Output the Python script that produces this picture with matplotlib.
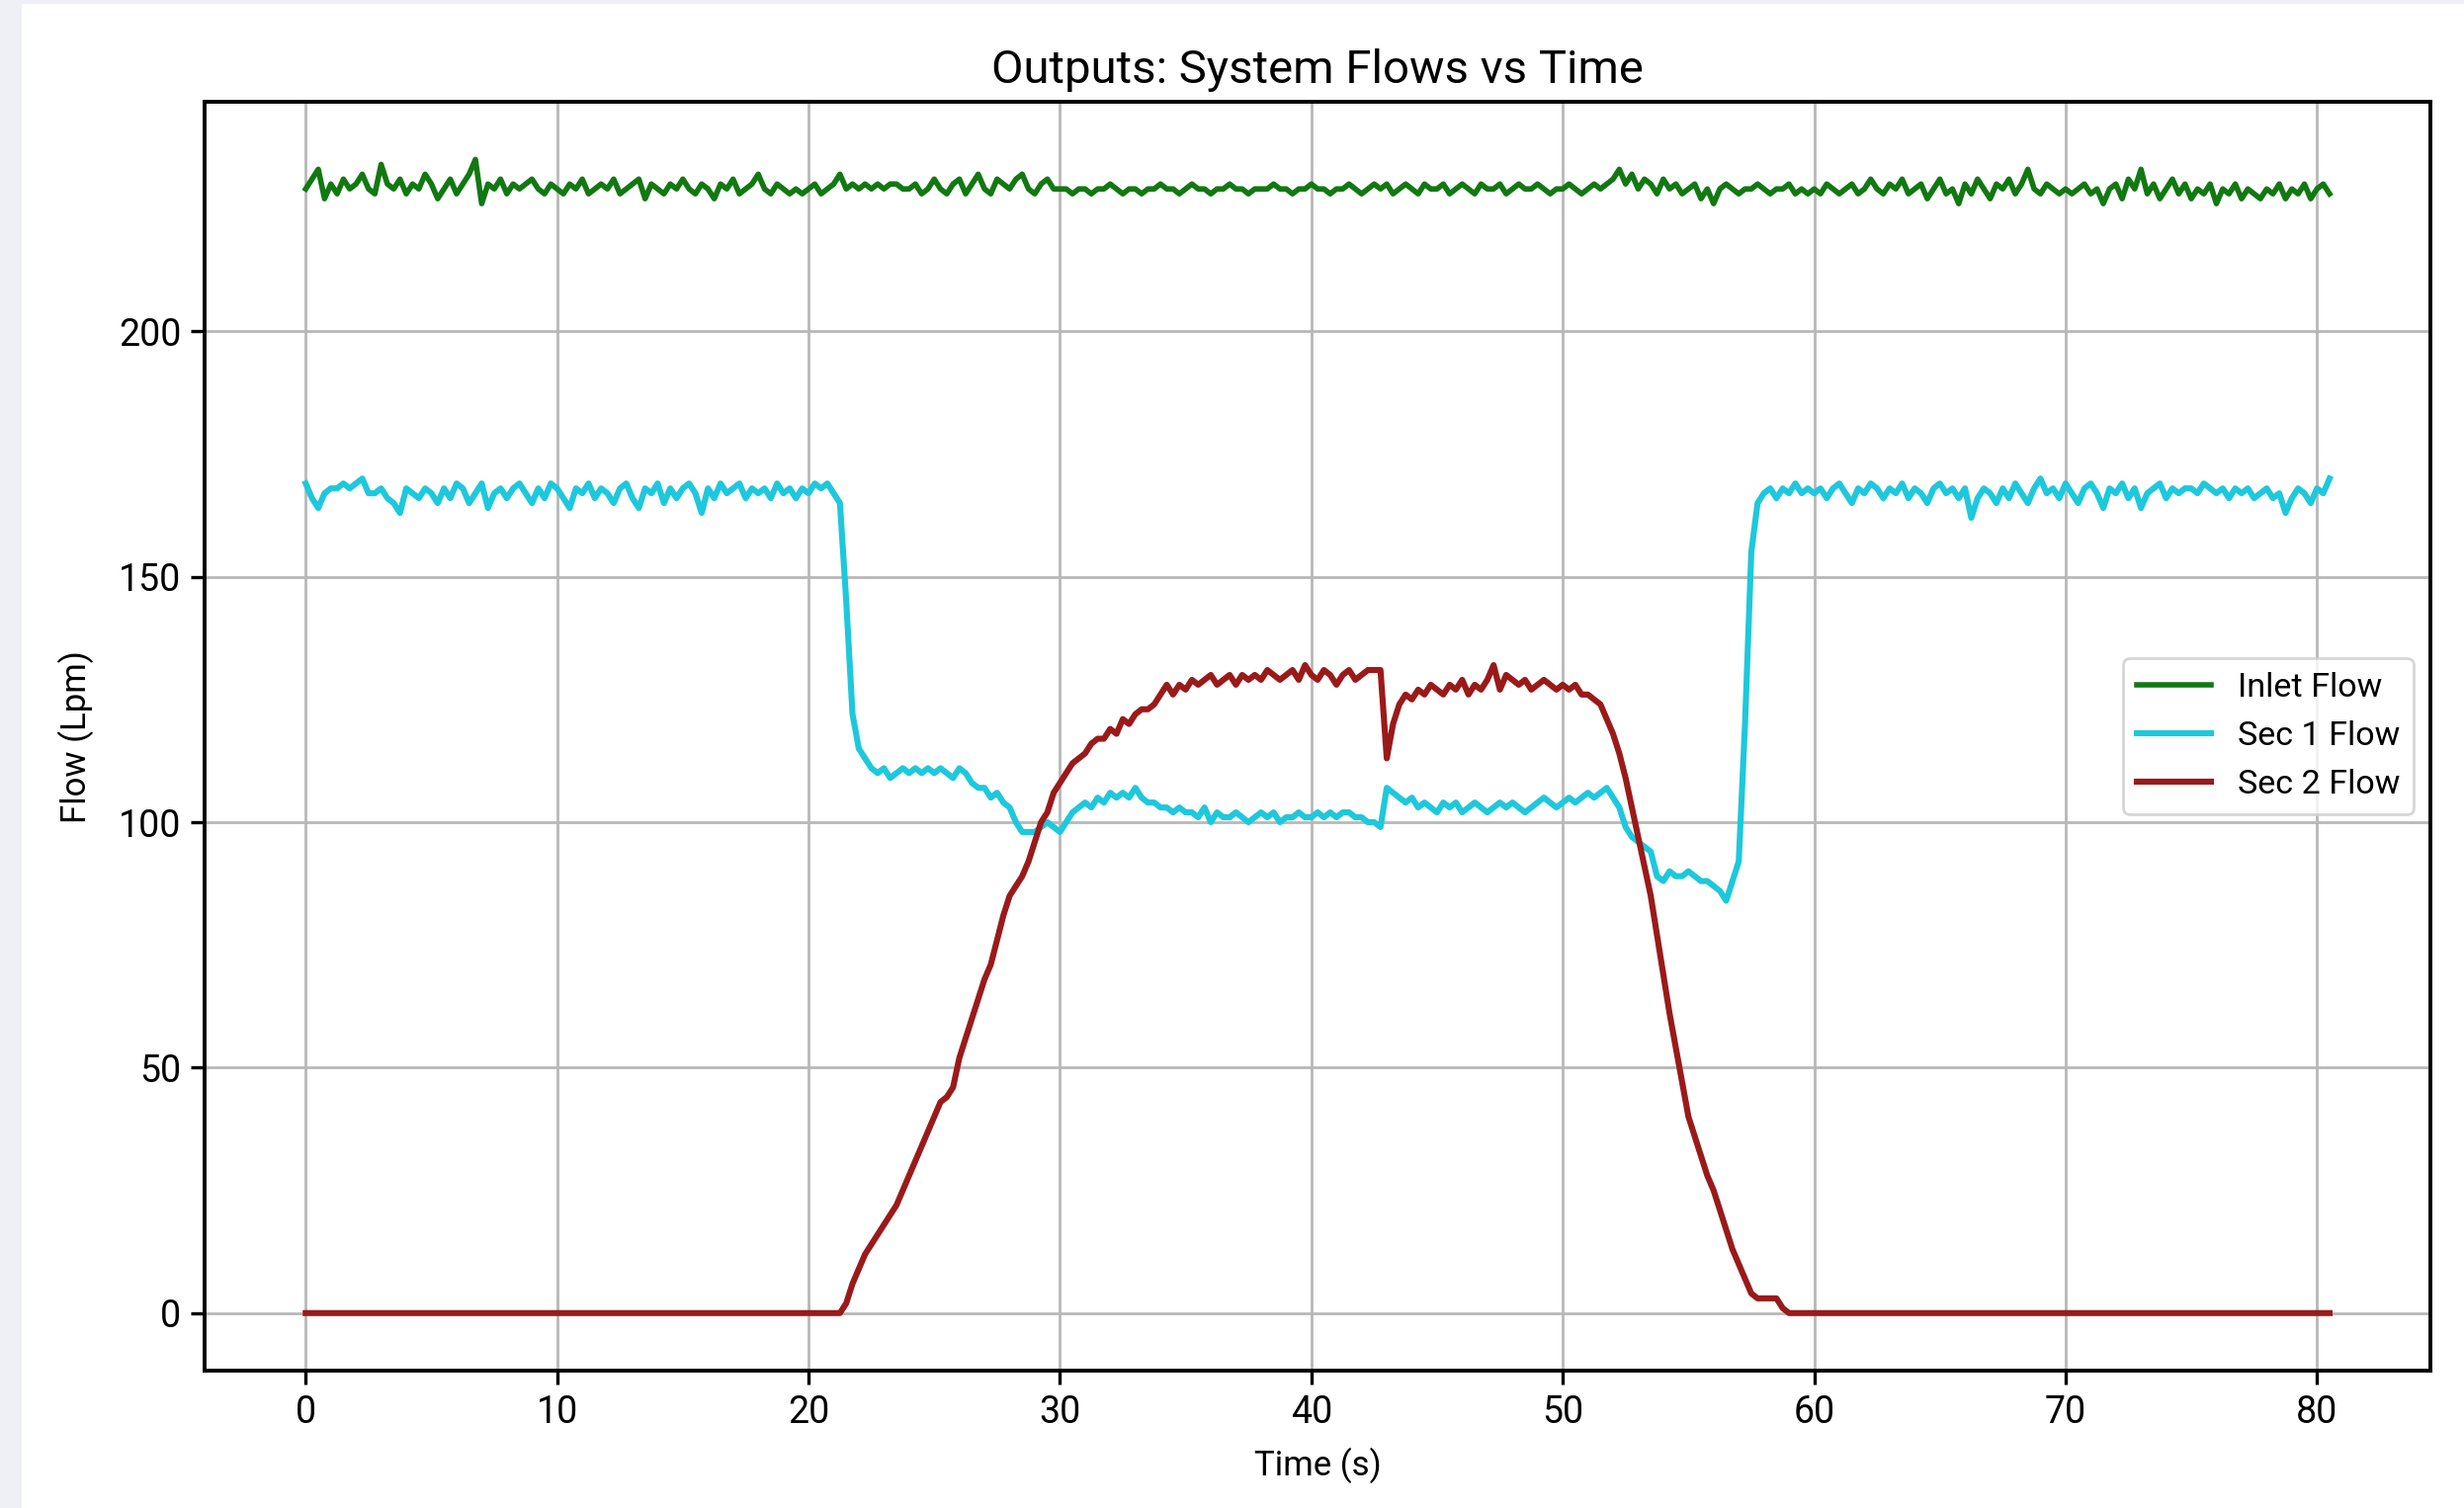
import numpy as np
import matplotlib.pyplot as plt
from matplotlib.patches import Rectangle

plt.rcParams['font.family'] = ['Roboto', 'DejaVu Sans']

# time base, 0.25 s steps from 0 to 80.5 s
time_s = np.arange(323) * 0.25

inlet_flow = [
    229, 231, 233, 227, 230, 228, 231, 229, 230, 232, 229, 228, 234, 230, 229, 231, 228, 230, 229, 232,
    230, 227, 229, 231, 228, 230, 232, 235, 226, 230, 229, 231, 228, 230, 229, 230, 231, 229, 228, 230,
    229, 228, 230, 229, 231, 228, 229, 230, 229, 231, 228, 229, 230, 231, 227, 230, 229, 228, 230, 229,
    231, 229, 228, 230, 229, 227, 230, 229, 231, 228, 229, 230, 232, 229, 228, 230, 229, 228, 229, 228,
    229, 230, 228, 229, 230, 232, 229, 230, 229, 230, 229, 230, 229, 230, 230, 229, 229, 230, 228, 229,
    231, 229, 228, 230, 231, 228, 230, 232, 229, 228, 231, 230, 229, 231, 232, 229, 228, 230, 231, 229,
    229, 229, 228, 229, 229, 228, 229, 229, 230, 229, 228, 229, 229, 228, 229, 229, 230, 229, 229, 228,
    229, 230, 229, 229, 228, 229, 229, 230, 229, 229, 228, 229, 229, 229, 230, 229, 229, 228, 229, 229,
    230, 229, 229, 228, 229, 229, 230, 229, 228, 229, 230, 229, 230, 228, 229, 230, 229, 228, 230, 229,
    229, 230, 228, 229, 230, 229, 228, 230, 229, 229, 230, 228, 229, 230, 229, 229, 230, 229, 228, 229,
    229, 230, 229, 228, 229, 230, 229, 230, 231, 233, 230, 232, 229, 231, 230, 228, 231, 229, 230, 228,
    229, 230, 227, 229, 226, 229, 230, 229, 228, 229, 229, 230, 229, 228, 229, 229, 230, 228, 229, 228,
    229, 228, 230, 229, 228, 229, 230, 228, 229, 231, 229, 228, 230, 229, 231, 228, 229, 230, 227, 229,
    231, 228, 229, 226, 230, 228, 231, 229, 227, 230, 229, 231, 228, 230, 233, 229, 228, 230, 229, 228,
    229, 228, 229, 230, 228, 229, 226, 229, 230, 227, 231, 229, 233, 228, 230, 227, 229, 231, 228, 230,
    227, 229, 228, 230, 226, 229, 228, 230, 227, 229, 228, 227, 229, 228, 230, 227, 229, 228, 230, 227,
    229, 230, 228,
]

sec1_flow = [
    169, 166, 164, 167, 168, 168, 169, 168, 169, 170, 167, 167, 168, 166, 165, 163, 168, 167, 166, 168,
    167, 165, 168, 166, 169, 168, 165, 167, 169, 164, 167, 168, 166, 168, 169, 167, 165, 168, 166, 169,
    168, 166, 164, 168, 167, 169, 166, 168, 167, 165, 168, 169, 166, 164, 168, 167, 169, 165, 168, 166,
    168, 169, 167, 163, 168, 166, 169, 167, 168, 169, 166, 168, 167, 168, 166, 169, 167, 168, 166, 168,
    167, 169, 168, 169, 167, 165, 145, 122, 115, 113, 111, 110, 111, 109, 110, 111, 110, 111, 110, 111,
    110, 111, 110, 109, 111, 110, 108, 107, 107, 105, 106, 104, 103, 100, 98, 98, 98, 99, 100, 99,
    98, 100, 102, 103, 104, 103, 105, 104, 106, 105, 106, 105, 107, 105, 104, 104, 103, 103, 102, 103,
    102, 102, 101, 103, 100, 102, 101, 101, 102, 101, 100, 101, 102, 101, 102, 100, 101, 101, 102, 101,
    101, 102, 101, 102, 101, 102, 102, 101, 101, 100, 100, 99, 107, 106, 105, 104, 105, 103, 104, 103,
    102, 104, 103, 104, 102, 103, 104, 103, 102, 103, 104, 103, 104, 103, 102, 103, 104, 105, 104, 103,
    104, 105, 104, 105, 106, 105, 106, 107, 105, 103, 99, 97, 96, 95, 94, 89, 88, 90, 89, 89,
    90, 89, 88, 88, 87, 86, 84, 88, 92, 120, 155, 165, 167, 168, 166, 168, 167, 169, 167, 168,
    167, 168, 166, 168, 169, 167, 165, 168, 167, 169, 168, 166, 168, 167, 169, 166, 168, 167, 165, 168,
    169, 167, 168, 166, 168, 162, 166, 168, 167, 165, 168, 166, 169, 167, 165, 168, 170, 167, 168, 166,
    169, 167, 165, 168, 169, 167, 164, 168, 167, 169, 166, 168, 164, 167, 168, 169, 166, 168, 167, 168,
    168, 167, 169, 168, 167, 168, 166, 168, 167, 168, 166, 167, 168, 166, 167, 163, 166, 168, 167, 165,
    168, 167, 170,
]

sec2_flow = (
    [0.0] * 80
    + [0, 0, 0, 0, 0, 0, 2, 6, 9, 12, 14, 16, 18, 20, 22, 25, 28, 31, 34, 37,
       40, 43, 44, 46, 52, 56, 60, 64, 68, 71, 76, 81, 85, 87, 89, 92, 96, 100, 102, 106,
       108, 110, 112, 113, 114, 116, 117, 117, 119, 118, 121, 120, 122, 123, 123, 124, 126, 128, 126, 128,
       127, 129, 128, 129, 130, 128, 129, 130, 128, 130, 129, 130, 129, 131, 130, 129, 130, 131, 129, 132,
       130, 129, 131, 130, 128, 130, 131, 129, 130, 131, 131, 131, 113, 120, 124, 126, 125, 127, 126, 128,
       127, 126, 128, 127, 129, 126, 128, 127, 129, 132, 127, 130, 129, 128, 129, 127, 128, 129, 128, 127,
       128, 127, 128, 126, 126, 125, 124, 121, 118, 114, 109, 103, 97, 91, 85, 77, 69, 61, 54, 47,
       40, 36, 32, 28, 25, 21, 17, 13, 10, 7, 4, 3, 3, 3, 3, 1, 0, 0, 0, 0]
    + [0.0] * 83
)

fig = plt.figure(figsize=(12.465, 7.63), dpi=200, facecolor='#eef0f5')
fig.patches.append(Rectangle((22 / 2493, 0), 1, 1 - 4 / 1526, transform=fig.transFigure,
                             facecolor='white', edgecolor='none', zorder=-1))
ax = fig.add_axes([0.083, 0.091, 0.9035, 0.8415])

ax.plot(time_s, inlet_flow, color='#127812', lw=2.0, label='Inlet Flow')
ax.plot(time_s, sec1_flow, color='#1ec8dc', lw=2.2, label='Sec 1 Flow')
ax.plot(time_s, sec2_flow, color='#9a1a1a', lw=2.2, label='Sec 2 Flow')

ax.set_title('Outputs: System Flows vs Time', fontsize=17, pad=7)
ax.set_xlabel('Time (s)', fontsize=12.5, labelpad=6)
ax.set_ylabel('Flow (Lpm)', fontsize=12.5, labelpad=9)
ax.tick_params(labelsize=13.5, width=1.2, length=5)
ax.set_xticks(np.arange(0, 81, 10))
ax.set_yticks([0, 50, 100, 150, 200])
ax.grid(True, color='#b8b8b8', lw=1.0)
for s in ax.spines.values():
    s.set_linewidth(1.4)
ax.legend(loc='center right', fontsize=12.3, handlelength=2.2)

fig.savefig('out.png', dpi=200, facecolor=fig.get_facecolor())
